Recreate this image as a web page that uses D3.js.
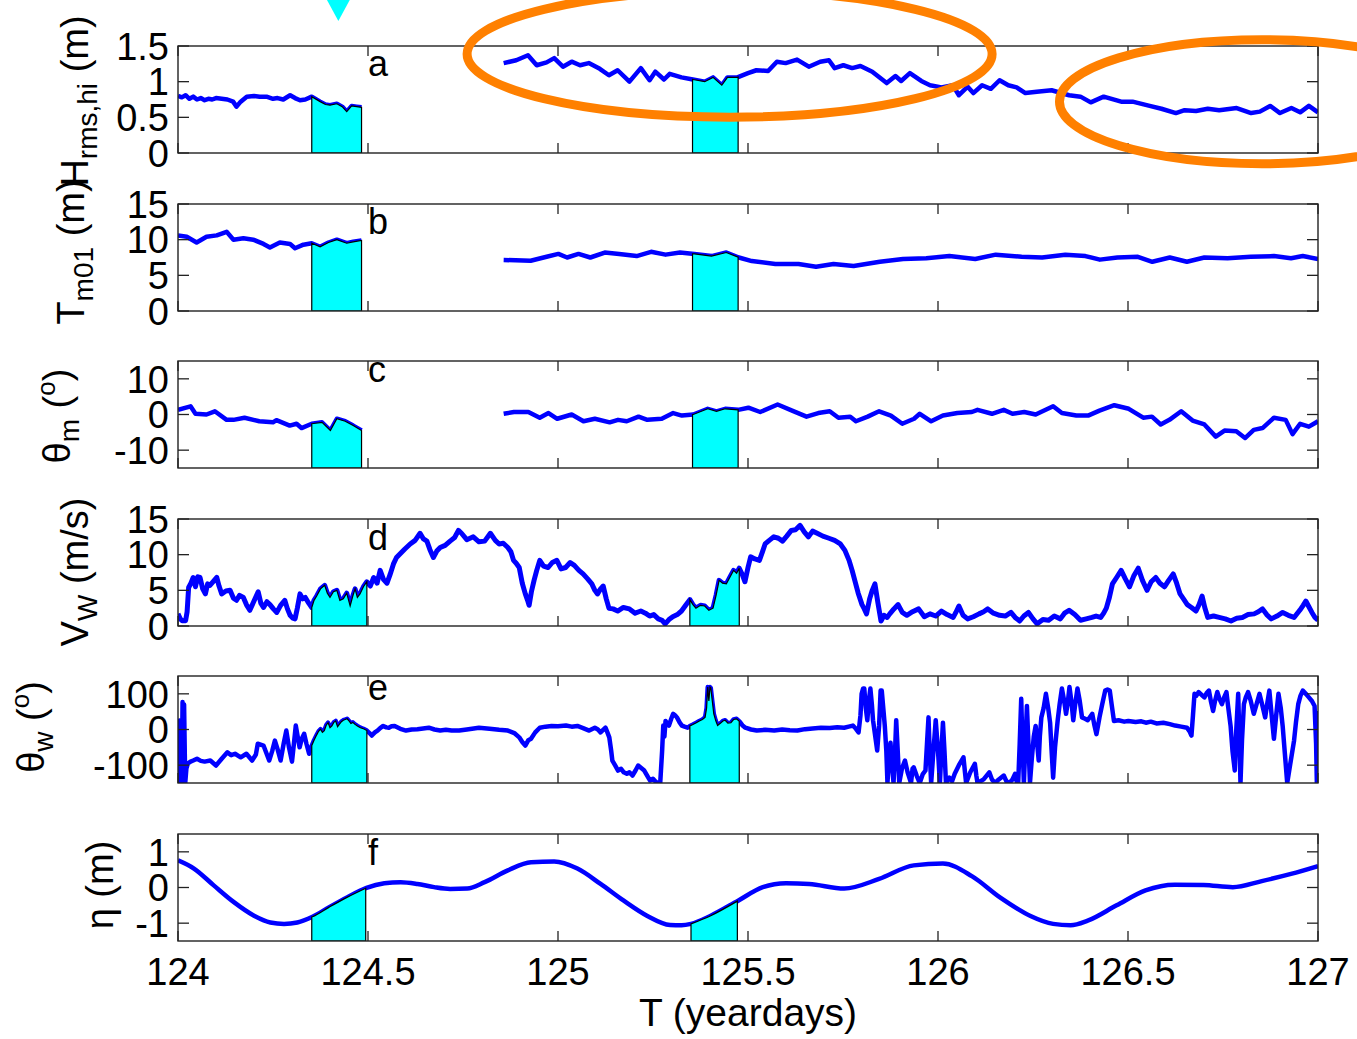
<!DOCTYPE html>
<html><head><meta charset="utf-8">
<script src="https://cdn.jsdelivr.net/npm/d3@7"></script>
<style>body{margin:0;background:#fff} svg{display:block} text{font-family:"Liberation Sans",Arial,Helvetica,sans-serif;fill:#000}</style>
</head><body><svg id="c" width="1357" height="1039"></svg>
<script>
// ---------------- DATA ----------------
const xTicks = [124, 124.5, 125, 125.5, 126, 126.5, 127];
const xTickLabels = ["124", "124.5", "125", "125.5", "126", "126.5", "127"];
const xLabel = "T (yeardays)";
const panelLetters = ["a", "b", "c", "d", "e", "f"];

// a: Hrms,hi (m)
const hrms1 = [[124.000,0.80],[124.010,0.78],[124.020,0.81],[124.030,0.76],[124.040,0.79],[124.050,0.75],[124.060,0.77],[124.070,0.74],[124.080,0.76],[124.090,0.75],[124.100,0.77],[124.115,0.76],[124.130,0.75],[124.145,0.72],[124.154,0.65],[124.165,0.72],[124.181,0.79],[124.200,0.80],[124.215,0.79],[124.233,0.79],[124.250,0.76],[124.262,0.77],[124.277,0.75],[124.295,0.81],[124.308,0.77],[124.321,0.74],[124.335,0.75],[124.352,0.79],[124.374,0.72],[124.388,0.68],[124.400,0.67],[124.418,0.69],[124.432,0.65],[124.444,0.58],[124.457,0.66],[124.470,0.65],[124.483,0.64]];
const hrms2 = [[124.857,1.26],[124.890,1.30],[124.921,1.37],[124.944,1.23],[124.970,1.27],[124.990,1.33],[125.013,1.21],[125.036,1.28],[125.058,1.23],[125.081,1.26],[125.110,1.18],[125.134,1.09],[125.157,1.16],[125.188,1.00],[125.218,1.19],[125.241,1.02],[125.256,1.14],[125.279,1.03],[125.294,1.11],[125.325,1.06],[125.355,1.03],[125.386,1.00],[125.408,1.06],[125.431,0.95],[125.446,1.06],[125.472,1.06],[125.500,1.12],[125.522,1.16],[125.553,1.15],[125.576,1.28],[125.599,1.26],[125.629,1.31],[125.660,1.21],[125.690,1.28],[125.713,1.30],[125.728,1.19],[125.751,1.23],[125.774,1.19],[125.796,1.22],[125.827,1.14],[125.865,0.98],[125.888,1.08],[125.903,1.01],[125.926,1.12],[125.956,1.01],[125.979,0.95],[126.009,0.92],[126.039,0.95],[126.055,0.81],[126.078,0.93],[126.093,0.84],[126.116,0.95],[126.139,0.90],[126.162,1.02],[126.185,0.95],[126.207,0.92],[126.230,0.84],[126.260,0.86],[126.299,0.88],[126.345,0.81],[126.375,0.79],[126.402,0.71],[126.436,0.79],[126.482,0.72],[126.512,0.72],[126.557,0.66],[126.588,0.62],[126.626,0.56],[126.649,0.60],[126.679,0.59],[126.710,0.62],[126.740,0.60],[126.786,0.63],[126.824,0.56],[126.847,0.58],[126.874,0.66],[126.900,0.56],[126.930,0.63],[126.953,0.57],[126.976,0.66],[127.000,0.57]];

// b: Tm01
const tm1 = [[124.000,10.6],[124.023,10.4],[124.049,9.6],[124.075,10.4],[124.102,10.6],[124.128,11.1],[124.146,10.0],[124.172,10.2],[124.198,10.0],[124.225,9.4],[124.242,8.9],[124.268,9.6],[124.295,9.4],[124.308,8.8],[124.330,9.3],[124.352,9.5],[124.374,9.0],[124.396,9.6],[124.418,10.0],[124.444,9.5],[124.461,9.7],[124.483,9.9]];
const tm2 = [[124.857,7.15],[124.928,7.05],[124.970,7.6],[125.001,8.0],[125.024,7.5],[125.054,8.0],[125.085,7.5],[125.123,8.2],[125.161,8.0],[125.207,7.7],[125.245,8.3],[125.283,7.9],[125.321,8.2],[125.359,8.0],[125.404,7.7],[125.443,8.2],[125.476,7.5],[125.510,7.0],[125.572,6.6],[125.633,6.6],[125.679,6.2],[125.725,6.6],[125.778,6.3],[125.847,6.9],[125.908,7.3],[125.969,7.4],[126.030,7.7],[126.098,7.3],[126.152,7.9],[126.220,7.6],[126.274,7.5],[126.335,7.9],[126.388,7.7],[126.426,7.2],[126.472,7.5],[126.526,7.6],[126.564,6.9],[126.610,7.5],[126.655,6.9],[126.701,7.5],[126.762,7.4],[126.823,7.6],[126.884,7.7],[126.929,7.4],[126.960,7.7],[127.000,7.3]];

// c: theta_m
const thm1 = [[124.000,1.3],[124.033,2.3],[124.046,0.2],[124.075,0.0],[124.097,0.9],[124.128,-1.5],[124.146,-1.5],[124.175,-0.9],[124.214,-1.9],[124.250,-2.2],[124.259,-1.6],[124.294,-3.1],[124.312,-2.6],[124.325,-3.8],[124.352,-2.6],[124.379,-2.2],[124.401,-4.5],[124.418,-1.2],[124.440,-1.9],[124.461,-3.1],[124.483,-4.5]];
const thm2 = [[124.857,0.2],[124.884,0.7],[124.922,0.7],[124.952,-0.9],[124.975,0.4],[124.998,-1.2],[125.036,0.0],[125.067,-1.9],[125.097,-1.2],[125.136,-2.2],[125.158,-1.5],[125.181,-1.9],[125.212,-0.6],[125.235,-1.5],[125.273,-1.2],[125.303,0.4],[125.326,-0.3],[125.356,0.0],[125.394,1.6],[125.417,0.9],[125.440,1.6],[125.474,1.3],[125.501,1.9],[125.532,0.7],[125.578,2.8],[125.616,1.1],[125.654,-0.6],[125.685,0.4],[125.715,0.9],[125.738,-0.9],[125.769,-0.6],[125.784,-1.9],[125.815,-0.6],[125.845,0.9],[125.876,-0.3],[125.906,-2.6],[125.937,-1.2],[125.952,0.2],[125.982,-1.9],[126.013,-0.3],[126.051,0.4],[126.089,0.7],[126.104,1.3],[126.142,0.2],[126.173,1.3],[126.196,0.2],[126.227,0.7],[126.257,0.0],[126.303,2.3],[126.326,0.4],[126.364,-0.3],[126.395,-0.3],[126.425,1.1],[126.464,2.6],[126.502,1.6],[126.540,-0.9],[126.563,-0.6],[126.586,-2.8],[126.609,-1.5],[126.640,0.9],[126.670,-1.7],[126.701,-2.8],[126.731,-6.2],[126.754,-4.5],[126.785,-4.7],[126.808,-6.6],[126.831,-4.3],[126.854,-3.8],[126.884,-0.9],[126.915,-1.5],[126.933,-5.5],[126.953,-2.6],[126.976,-3.4],[127.000,-1.9]];

// d: wind speed
const vw = [[124.000,1.7],[124.006,1.0],[124.011,0.75],[124.020,0.75],[124.024,2.0],[124.028,5.4],[124.034,6.0],[124.040,6.8],[124.046,5.5],[124.052,6.9],[124.058,6.8],[124.065,5.2],[124.072,4.5],[124.078,5.9],[124.084,5.7],[124.092,6.2],[124.102,6.8],[124.108,5.6],[124.115,4.5],[124.126,4.9],[124.137,5.0],[124.146,3.9],[124.154,3.6],[124.162,4.3],[124.172,4.0],[124.180,3.0],[124.189,2.2],[124.200,3.5],[124.211,4.8],[124.218,3.2],[124.225,2.6],[124.234,3.4],[124.242,3.0],[124.251,2.4],[124.260,1.9],[124.270,2.9],[124.281,3.6],[124.288,2.4],[124.295,1.5],[124.302,1.1],[124.308,1.0],[124.314,2.5],[124.321,4.5],[124.328,3.8],[124.335,4.0],[124.344,3.2],[124.352,2.6],[124.358,3.6],[124.365,4.2],[124.375,5.2],[124.386,5.7],[124.393,4.6],[124.400,4.0],[124.409,4.8],[124.418,5.0],[124.426,3.6],[124.435,3.8],[124.444,4.6],[124.453,2.8],[124.460,4.2],[124.466,5.2],[124.472,4.0],[124.479,4.5],[124.488,5.5],[124.497,6.2],[124.506,5.6],[124.515,6.8],[124.524,6.0],[124.532,7.8],[124.541,6.5],[124.550,6.0],[124.558,7.2],[124.567,8.7],[124.575,9.6],[124.584,10.1],[124.597,10.8],[124.611,11.5],[124.624,12.0],[124.637,13.0],[124.646,12.2],[124.655,11.9],[124.663,10.7],[124.672,9.6],[124.681,10.5],[124.690,11.0],[124.703,11.3],[124.716,11.9],[124.728,12.4],[124.738,13.4],[124.746,13.0],[124.760,12.1],[124.777,12.5],[124.792,11.8],[124.807,11.9],[124.822,13.0],[124.835,12.0],[124.845,11.5],[124.856,11.6],[124.868,11.0],[124.876,10.4],[124.883,9.2],[124.890,8.8],[124.898,8.2],[124.906,6.0],[124.914,4.5],[124.920,3.6],[124.924,2.9],[124.930,4.8],[124.937,6.4],[124.944,7.8],[124.952,9.2],[124.962,8.4],[124.974,8.2],[124.985,8.9],[124.997,9.2],[125.008,8.0],[125.020,8.2],[125.032,8.9],[125.043,8.5],[125.055,7.8],[125.066,7.3],[125.078,6.6],[125.089,5.9],[125.097,5.0],[125.104,4.5],[125.112,5.2],[125.119,5.6],[125.127,3.8],[125.134,2.5],[125.145,2.4],[125.157,2.1],[125.172,2.6],[125.188,2.4],[125.203,1.8],[125.218,2.1],[125.230,1.8],[125.241,1.4],[125.252,1.6],[125.264,1.0],[125.274,0.8],[125.282,0.3],[125.292,0.9],[125.302,1.3],[125.314,1.6],[125.325,2.1],[125.336,2.9],[125.347,3.7],[125.355,3.0],[125.363,2.5],[125.375,2.9],[125.386,2.8],[125.397,2.2],[125.408,2.5],[125.416,4.3],[125.424,6.4],[125.433,6.0],[125.443,5.9],[125.452,6.8],[125.462,7.8],[125.470,7.4],[125.477,8.1],[125.485,7.2],[125.492,6.2],[125.500,8.2],[125.507,9.7],[125.518,9.4],[125.530,9.2],[125.538,10.4],[125.545,11.5],[125.556,12.0],[125.568,12.5],[125.580,12.3],[125.591,11.9],[125.602,12.6],[125.614,13.4],[125.625,13.5],[125.637,14.1],[125.648,13.2],[125.659,12.5],[125.670,13.3],[125.682,13.0],[125.697,12.6],[125.713,12.3],[125.728,12.0],[125.743,11.5],[125.755,10.6],[125.766,9.2],[125.774,7.8],[125.781,6.4],[125.790,4.6],[125.800,3.0],[125.806,2.4],[125.812,1.7],[125.820,3.8],[125.827,5.0],[125.834,5.9],[125.842,3.2],[125.850,0.7],[125.858,1.5],[125.866,1.2],[125.873,1.7],[125.884,2.4],[125.895,3.0],[125.906,1.9],[125.918,1.5],[125.933,2.0],[125.949,2.4],[125.964,1.3],[125.979,1.7],[125.994,1.4],[126.009,2.1],[126.024,1.6],[126.040,1.2],[126.047,1.9],[126.055,2.8],[126.066,1.5],[126.078,1.0],[126.093,1.3],[126.108,1.7],[126.120,2.0],[126.131,2.4],[126.146,1.8],[126.162,1.5],[126.177,1.4],[126.192,1.9],[126.203,1.2],[126.215,0.7],[126.226,1.4],[126.238,1.9],[126.250,1.0],[126.261,0.3],[126.276,0.9],[126.291,0.8],[126.306,1.4],[126.322,1.0],[126.333,1.8],[126.345,2.2],[126.360,1.6],[126.375,0.8],[126.390,1.0],[126.405,1.2],[126.416,1.4],[126.428,1.2],[126.436,1.8],[126.443,2.5],[126.451,4.0],[126.459,5.9],[126.470,6.8],[126.482,7.8],[126.493,6.6],[126.504,5.5],[126.515,7.0],[126.527,8.1],[126.538,6.4],[126.550,5.0],[126.561,6.2],[126.573,6.8],[126.584,6.0],[126.596,5.5],[126.607,6.4],[126.619,7.3],[126.628,6.0],[126.637,4.5],[126.646,3.8],[126.656,3.0],[126.667,2.6],[126.679,2.1],[126.687,3.0],[126.695,4.2],[126.702,2.6],[126.710,1.2],[126.725,1.4],[126.740,1.2],[126.756,1.0],[126.771,0.7],[126.786,1.1],[126.801,1.2],[126.816,1.6],[126.832,1.7],[126.843,2.0],[126.854,2.4],[126.865,1.6],[126.877,1.0],[126.892,1.4],[126.907,1.9],[126.922,1.5],[126.937,1.2],[126.952,2.2],[126.961,2.9],[126.968,3.5],[126.976,2.7],[126.984,1.9],[126.992,1.2],[127.000,0.8]];

// e: wind direction
const thw = [[124.000,25],[124.002,-150],[124.004,25],[124.006,-150],[124.008,20],[124.010,-140],[124.012,77],[124.014,-150],[124.016,70],[124.019,-150],[124.022,-110],[124.026,-95],[124.033,-90],[124.040,-87],[124.050,-82],[124.060,-88],[124.070,-90],[124.085,-87],[124.100,-101],[124.115,-82],[124.130,-64],[124.140,-72],[124.150,-68],[124.165,-78],[124.180,-68],[124.195,-87],[124.205,-70],[124.210,-40],[124.225,-45],[124.240,-87],[124.248,-60],[124.255,-31],[124.262,-55],[124.270,-87],[124.278,-40],[124.285,-3],[124.292,-50],[124.300,-90],[124.305,-40],[124.310,11],[124.315,-20],[124.320,-50],[124.326,-25],[124.332,-12],[124.338,-40],[124.345,-68],[124.352,-45],[124.358,-30],[124.365,-15],[124.370,-5],[124.375,1],[124.380,-8],[124.385,-3],[124.390,12],[124.395,19],[124.400,5],[124.405,10],[124.410,20],[124.415,24],[124.420,8],[124.425,15],[124.430,22],[124.435,26],[124.440,28],[124.445,30],[124.450,24],[124.455,17],[124.460,20],[124.465,15],[124.472,10],[124.480,5],[124.488,2],[124.497,-3],[124.504,-10],[124.510,-17],[124.518,-8],[124.525,-3],[124.532,4],[124.540,10],[124.548,6],[124.555,5],[124.562,9],[124.570,10],[124.585,2],[124.600,-3],[124.615,0],[124.630,1],[124.645,3],[124.660,5],[124.675,0],[124.690,-3],[124.705,-1],[124.720,-3],[124.740,-3],[124.760,0],[124.792,5],[124.820,2],[124.845,-1],[124.868,-3],[124.885,-10],[124.898,-22],[124.906,-35],[124.914,-45],[124.922,-30],[124.929,-26],[124.940,-8],[124.952,5],[124.967,8],[124.983,10],[125.000,9],[125.021,11],[125.036,8],[125.051,10],[125.066,4],[125.082,-3],[125.097,5],[125.105,0],[125.112,-8],[125.118,-2],[125.125,5],[125.130,-8],[125.135,-22],[125.140,-60],[125.143,-87],[125.150,-100],[125.158,-115],[125.166,-110],[125.173,-120],[125.181,-124],[125.188,-120],[125.196,-129],[125.204,-115],[125.211,-101],[125.219,-108],[125.227,-115],[125.235,-130],[125.242,-143],[125.250,-138],[125.256,-145],[125.262,-150],[125.269,-150],[125.274,-60],[125.277,11],[125.280,-20],[125.283,24],[125.288,15],[125.292,11],[125.298,30],[125.303,44],[125.308,40],[125.313,34],[125.320,20],[125.326,11],[125.333,8],[125.341,5],[125.347,10],[125.355,14],[125.364,19],[125.372,24],[125.380,28],[125.387,34],[125.391,60],[125.394,119],[125.397,80],[125.400,119],[125.402,117],[125.406,80],[125.410,44],[125.415,25],[125.420,11],[125.428,18],[125.434,24],[125.440,26],[125.447,18],[125.455,19],[125.462,28],[125.470,30],[125.478,22],[125.485,12],[125.493,5],[125.508,0],[125.523,-3],[125.545,-1],[125.569,-3],[125.590,0],[125.610,-2],[125.630,-3],[125.650,1],[125.670,3],[125.692,5],[125.715,4],[125.735,6],[125.753,5],[125.765,8],[125.776,11],[125.784,2],[125.791,-8],[125.796,40],[125.799,100],[125.803,115],[125.806,115],[125.810,60],[125.814,26],[125.818,80],[125.822,115],[125.826,70],[125.829,26],[125.835,-20],[125.840,-59],[125.845,10],[125.849,109],[125.852,109],[125.856,60],[125.860,10],[125.864,-60],[125.867,-150],[125.871,-80],[125.875,-37],[125.879,-100],[125.883,-150],[125.887,-60],[125.890,26],[125.894,-60],[125.898,-150],[125.905,-110],[125.913,-87],[125.920,-120],[125.929,-150],[125.933,-110],[125.936,-106],[125.944,-130],[125.952,-150],[125.960,-125],[125.967,-115],[125.971,-40],[125.975,34],[125.978,-60],[125.982,-150],[125.988,-60],[125.994,26],[126.000,-60],[126.005,-150],[126.009,-60],[126.013,19],[126.017,-60],[126.021,-150],[126.030,-135],[126.037,-145],[126.044,-124],[126.055,-100],[126.067,-78],[126.071,-120],[126.074,-150],[126.085,-120],[126.097,-96],[126.101,-130],[126.104,-150],[126.120,-140],[126.135,-120],[126.142,-140],[126.150,-150],[126.160,-140],[126.173,-129],[126.180,-145],[126.188,-150],[126.196,-140],[126.203,-124],[126.207,-145],[126.211,-150],[126.215,-40],[126.219,86],[126.222,-30],[126.226,-150],[126.230,-40],[126.234,66],[126.238,-40],[126.242,-150],[126.247,-80],[126.252,-20],[126.257,10],[126.261,-40],[126.265,-87],[126.268,-20],[126.272,34],[126.278,60],[126.284,100],[126.290,60],[126.295,19],[126.299,-60],[126.303,-135],[126.308,-50],[126.315,26],[126.320,70],[126.326,115],[126.332,80],[126.337,44],[126.342,80],[126.346,119],[126.351,80],[126.356,26],[126.361,70],[126.367,115],[126.373,80],[126.379,34],[126.387,30],[126.394,26],[126.400,35],[126.406,44],[126.411,15],[126.417,-13],[126.421,10],[126.425,34],[126.432,70],[126.440,109],[126.446,112],[126.452,109],[126.457,70],[126.463,24],[126.475,26],[126.490,22],[126.501,24],[126.520,21],[126.535,23],[126.547,19],[126.560,22],[126.575,17],[126.593,19],[126.610,15],[126.624,11],[126.640,8],[126.655,5],[126.662,-5],[126.667,-17],[126.671,40],[126.675,100],[126.680,95],[126.686,105],[126.693,98],[126.701,90],[126.707,102],[126.713,109],[126.718,80],[126.724,52],[126.729,80],[126.735,105],[126.741,85],[126.747,71],[126.753,90],[126.759,105],[126.764,60],[126.770,10],[126.775,-60],[126.781,-115],[126.785,0],[126.790,100],[126.793,-20],[126.796,-150],[126.800,-30],[126.805,71],[126.810,90],[126.816,105],[126.823,80],[126.831,44],[126.838,70],[126.846,100],[126.853,70],[126.861,34],[126.866,70],[126.872,109],[126.878,40],[126.884,-26],[126.890,40],[126.896,100],[126.902,60],[126.907,10],[126.913,-70],[126.919,-150],[126.928,-90],[126.937,-31],[126.942,20],[126.948,71],[126.954,95],[126.960,109],[126.968,100],[126.976,90],[126.984,80],[126.991,66],[126.995,-40],[126.997,-150],[127.000,52]];

// f: tide
const eta = [[124.000,0.76],[124.042,0.53],[124.094,0.06],[124.147,-0.41],[124.200,-0.79],[124.243,-0.98],[124.279,-1.02],[124.314,-0.98],[124.354,-0.82],[124.398,-0.55],[124.446,-0.27],[124.496,-0.01],[124.543,0.12],[124.586,0.15],[124.630,0.10],[124.674,0.01],[124.716,-0.04],[124.761,-0.03],[124.807,0.15],[124.868,0.48],[124.929,0.71],[124.990,0.73],[125.051,0.53],[125.112,0.10],[125.173,-0.37],[125.234,-0.79],[125.295,-1.05],[125.325,-1.06],[125.350,-1.02],[125.402,-0.79],[125.474,-0.37],[125.539,0.01],[125.600,0.12],[125.661,0.10],[125.753,-0.03],[125.845,0.24],[125.936,0.62],[126.013,0.67],[126.089,0.32],[126.165,-0.29],[126.242,-0.79],[126.303,-1.02],[126.349,-1.06],[126.394,-0.93],[126.470,-0.50],[126.546,-0.08],[126.623,0.08],[126.699,0.07],[126.776,0.01],[126.852,0.18],[126.929,0.38],[127.000,0.60]];

// panel y domains / ticks
const yDomains = [[0,1.5],[0,15],[-15,15],[0,15],[-150,150],[-1.5,1.5]];
const yTicks = [[0,0.5,1,1.5],[0,5,10,15],[-10,0,10],[0,5,10,15],[-100,0,100],[-1,0,1]];
const yTickLabels = [["0","0.5","1","1.5"],["0","5","10","15"],["-10","0","10"],["0","5","10","15"],["-100","0","100"],["-1","0","1"]];
// shaded windows (yeardays)
const windowsWave = [[124.352,124.483],[125.354,125.474]];
const windowsWind = [[124.352,124.497],[125.347,125.477]];
const windowsTide = [[124.352,124.494],[125.350,125.472]];
// panel letter positions (x in yeardays, y in data units)
const letterX = 124.5;
const letterY = [1.08, 10.86, 9.1, 10.6, 81.5, 0.62];
// annotations (panel a coords): [cx, cy, rxDays, ryUnits]
const ellipses = [[125.4516,1.388,0.6908,0.886],[126.8526,0.719,0.5329,0.869]];
const markerT = 124.422;

// ---------------- LAYOUT ----------------
const W = 1357, H = 1039;
const L = 178, R = 1318;
const tops = [46, 204, 361, 519, 676, 834];
const PH = 107;
const FONT = 38;

const svg = d3.select("#c");
svg.append("rect").attr("width", W).attr("height", H).attr("fill", "#fff");
const x = d3.scaleLinear().domain([124, 127]).range([L, R]);

const panels = [
  {segs:[hrms1,hrms2], win:windowsWave, curve:d3.curveLinear, lw:4.5},
  {segs:[tm1,tm2], win:windowsWave, curve:d3.curveLinear, lw:4.5},
  {segs:[thm1,thm2], win:windowsWave, curve:d3.curveLinear, lw:4.5},
  {segs:[vw], win:windowsWind, curve:d3.curveLinear, lw:5},
  {segs:[thw], win:windowsWind, curve:d3.curveLinear, lw:4.5},
  {segs:[eta], win:windowsTide, curve:d3.curveMonotoneX, lw:4.5}
];

function interp(seg, t) {
  for (let i = 0; i < seg.length - 1; i++) {
    const a = seg[i], b = seg[i+1];
    if (t >= a[0] && t <= b[0]) {
      const f = (t - a[0]) / (b[0] - a[0]);
      return a[1] + f * (b[1] - a[1]);
    }
  }
  return seg[seg.length-1][1];
}

const yScales = [];
panels.forEach((p, i) => {
  const top = tops[i], bot = top + PH;
  const y = d3.scaleLinear().domain(yDomains[i]).range([bot, top]);
  yScales.push(y);
  const g = svg.append("g");
  const cid = "clip" + i;
  svg.append("clipPath").attr("id", cid).append("rect").attr("x", L).attr("y", top).attr("width", R - L).attr("height", PH);
  const pg = g.append("g").attr("clip-path", `url(#${cid})`);
  const line = d3.line().x(d => x(d[0])).y(d => y(d[1])).curve(p.curve);
  p.segs.forEach(seg => {
    pg.append("path").attr("d", line(seg)).attr("fill", "none").attr("stroke", "#0000ff")
      .attr("stroke-width", p.lw).attr("stroke-linejoin", "round");
  });
  // shaded patches
  const area = d3.area().x(d => x(d[0])).y0(y(yDomains[i][0])).y1(d => y(d[1])).curve(p.curve);
  p.win.forEach(w => {
    p.segs.forEach(seg => {
      const s0 = seg[0][0], s1 = seg[seg.length-1][0];
      if (w[0] < s0 - 1e-9 || w[1] > s1 + 1e-9) return;
      const pts = [[w[0], interp(seg, w[0])]];
      seg.forEach(d => { if (d[0] > w[0] && d[0] < w[1]) pts.push(d); });
      pts.push([w[1], interp(seg, w[1])]);
      pg.append("path").attr("d", area(pts) + "Z").attr("fill", "#00ffff").attr("stroke", "#000").attr("stroke-width", 1.2);
    });
  });
  // frame
  g.append("rect").attr("x", L).attr("y", top).attr("width", R - L).attr("height", PH)
    .attr("fill", "none").attr("stroke", "#222").attr("stroke-width", 1.4);
  // x ticks (inward, top and bottom)
  xTicks.forEach(t => {
    g.append("line").attr("x1", x(t)).attr("x2", x(t)).attr("y1", bot).attr("y2", bot - 10).attr("stroke", "#222").attr("stroke-width", 1.3);
    g.append("line").attr("x1", x(t)).attr("x2", x(t)).attr("y1", top).attr("y2", top + 10).attr("stroke", "#222").attr("stroke-width", 1.3);
  });
  // y ticks (left and right)
  yTicks[i].forEach((v, k) => {
    g.append("line").attr("x1", L).attr("x2", L + 11).attr("y1", y(v)).attr("y2", y(v)).attr("stroke", "#222").attr("stroke-width", 1.3);
    g.append("line").attr("x1", R).attr("x2", R - 11).attr("y1", y(v)).attr("y2", y(v)).attr("stroke", "#222").attr("stroke-width", 1.3);
    g.append("text").attr("x", L - 9).attr("y", y(v)).attr("dy", "0.36em").attr("text-anchor", "end")
      .attr("font-size", FONT).text(yTickLabels[i][k]);
  });
  // panel letter
  g.append("text").attr("x", x(letterX)).attr("y", y(letterY[i])).attr("font-size", 36).text(panelLetters[i]);
});

// x tick labels
const lastBot = tops[5] + PH;
xTicks.forEach((t, k) => {
  svg.append("text").attr("x", x(t)).attr("y", lastBot + 44).attr("text-anchor", "middle").attr("font-size", FONT).text(xTickLabels[k]);
});
svg.append("text").attr("x", x(125.5)).attr("y", 1026).attr("text-anchor", "middle").attr("font-size", 39).text(xLabel);

// y labels (rotated) : [baselineX, centerY, parts]
const yLabels = [
  [88, 101, [["H",0],["rms,hi",1],[" (m)",0]]],
  [84, 252, [["T",0],["m01",1],[" (m)",0]]],
  [70, 416, [["θ",0],["m",1],[" (",0],["o",2],[")",0]]],
  [88, 572, [["V",0],["W",1],[" (m/s)",0]]],
  [44, 727, [["θ",0],["w",1],[" (",0],["o",2],[")",0]]],
  [113, 885, [["η (m)",0]]]
];
yLabels.forEach(([bx, cy, parts]) => {
  const t = svg.append("text").attr("transform", `translate(${bx},${cy}) rotate(-90)`)
    .attr("text-anchor", "middle").attr("font-size", FONT);
  let shift = 0;
  parts.forEach(([s, kind]) => {
    const target = kind === 1 ? 9 : kind === 2 ? -15 : 0;
    const ts = t.append("tspan").attr("dy", target - shift).text(s);
    if (kind === 1) ts.attr("font-size", 28);
    if (kind === 2) ts.attr("font-size", 26);
    shift = target;
  });
});

// annotations
const ya = yScales[0];
ellipses.forEach(e => {
  svg.append("ellipse").attr("cx", x(e[0])).attr("cy", ya(e[1]))
    .attr("rx", x(e[0] + e[2]) - x(e[0])).attr("ry", ya(0) - ya(e[3]))
    .attr("fill", "none").attr("stroke", "#ff8000").attr("stroke-width", 9);
});
svg.append("path").attr("transform", `translate(${x(markerT)},0)`)
  .attr("d", "M-13,-3L13,-3L0,21Z").attr("fill", "#00ffff");
</script></body></html>
